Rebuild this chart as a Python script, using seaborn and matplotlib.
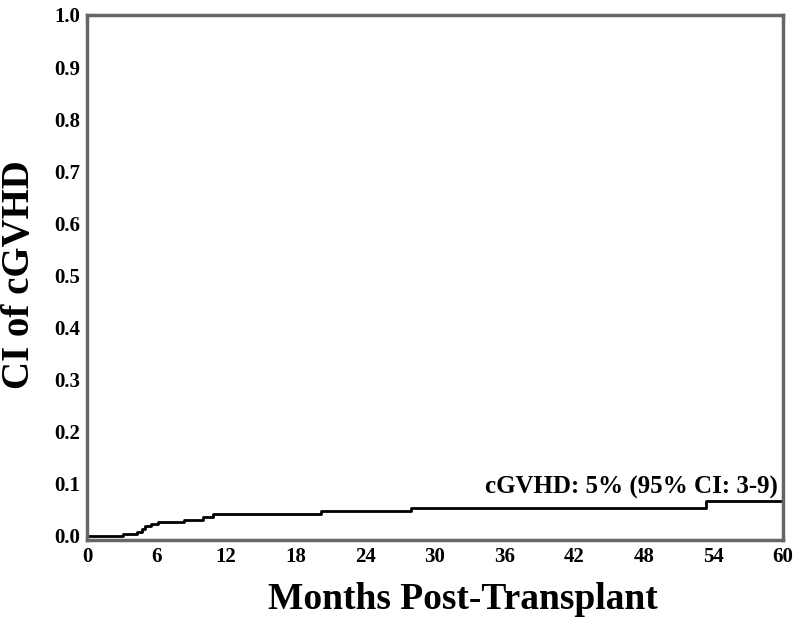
import matplotlib
matplotlib.use("Agg")
import matplotlib.pyplot as plt
import seaborn as sns
import pandas as pd

months = [0, 3.1, 4.3, 4.7, 5.0, 5.5, 6.1, 8.4, 10.0, 10.9, 20.2, 27.9, 53.4, 60]
ci = [0.0, 0.004, 0.008, 0.013, 0.019, 0.0225, 0.0256, 0.031, 0.036, 0.041, 0.047, 0.0525, 0.067, 0.067]
x_ticks = [0, 6, 12, 18, 24, 30, 36, 42, 48, 54, 60]
y_ticks = [0.0, 0.1, 0.2, 0.3, 0.4, 0.5, 0.6, 0.7, 0.8, 0.9, 1.0]
annotation = "cGVHD: 5% (95% CI: 3-9)"

sns.set_style("white")
plt.rcParams['font.family'] = ['Liberation Serif', 'DejaVu Serif']
plt.rcParams['font.weight'] = 'bold'
plt.rcParams['text.color'] = 'black'
plt.rcParams['axes.labelcolor'] = 'black'
plt.rcParams['xtick.color'] = 'black'
plt.rcParams['ytick.color'] = 'black'

df = pd.DataFrame({"months": months, "ci": ci})

fig = plt.figure(figsize=(8, 6.3), dpi=100)
ax = fig.add_axes([0.10875, 0.1429, 0.870, 0.8333])
sns.lineplot(data=df, x="months", y="ci", drawstyle="steps-post", color="black", linewidth=2.0, ax=ax)

ax.set_xlim(0, 60)
ax.set_ylim(-0.008, 1.0)
ax.set_xticks(x_ticks)
ax.set_xticklabels([str(t) for t in x_ticks], fontsize=15, fontweight='bold')
ax.set_yticks(y_ticks)
ax.set_yticklabels([f"{t:.1f}" for t in y_ticks], fontsize=15, fontweight='bold')
ax.tick_params(axis='both', direction='out', length=4, width=1.2, color='#666666', pad=1)
for s in ax.spines.values():
    s.set_color('#666666')
    s.set_linewidth(2.5)
    s.set_visible(True)

ax.set_xlabel("Months Post-Transplant", fontsize=27, fontweight='bold')
ax.xaxis.set_label_coords((463 - 87) / 696, -(598 - 539) / 524)
ax.xaxis.label.set_verticalalignment('center')
ax.set_ylabel("CI of cGVHD", fontsize=28, fontweight='bold')
ax.yaxis.set_label_coords(-(87 - 20) / 696, 0.505)
ax.yaxis.label.set_verticalalignment('center')

ax.text(59.6, 0.093, annotation, ha='right', va='center', fontsize=18, fontweight='bold')

fig.savefig("out.png", dpi=100)
